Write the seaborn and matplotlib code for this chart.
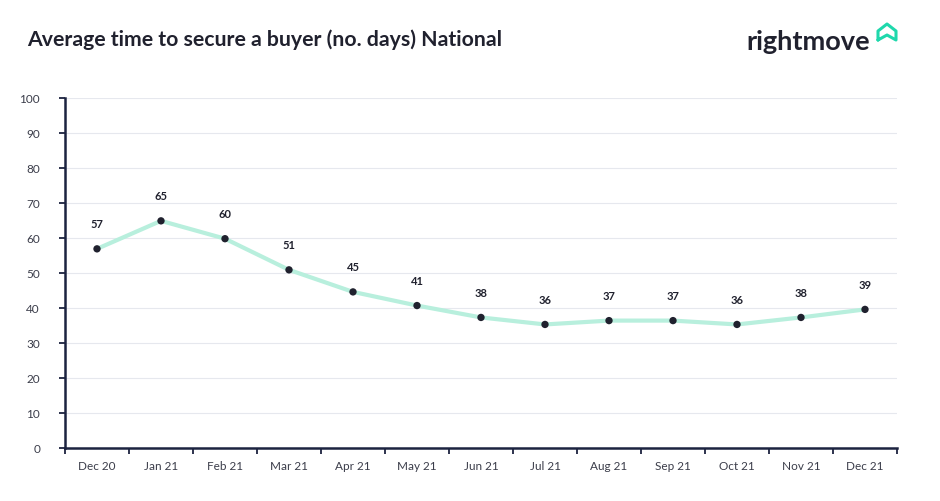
import numpy as np
import pandas as pd
import matplotlib.pyplot as plt
import seaborn as sns
from matplotlib.lines import Line2D

# Data
months = ['Dec 20', 'Jan 21', 'Feb 21', 'Mar 21', 'Apr 21', 'May 21', 'Jun 21',
          'Jul 21', 'Aug 21', 'Sep 21', 'Oct 21', 'Nov 21', 'Dec 21']
days = [56.9, 64.9, 59.8, 50.9, 44.6, 40.7, 37.3, 35.3, 36.4, 36.4, 35.3, 37.3, 39.6]
day_labels = ['57', '65', '60', '51', '45', '41', '38', '36', '37', '37', '36', '38', '39']
y_ticks = [0, 10, 20, 30, 40, 50, 60, 70, 80, 90, 100]

navy = '#1c2340'
dark = '#20212e'
mint = '#b8efdd'
green = '#1fd8ac'

sns.set_theme(style='white')
plt.rcParams['font.family'] = ['Lato', 'DejaVu Sans']

df = pd.DataFrame({'pos': np.arange(len(months)), 'days': days})

fig = plt.figure(figsize=(9.4, 5.02), dpi=100)
ax = fig.add_axes([65 / 940, 1 - 449 / 502, 832 / 940, 350 / 502])

sns.lineplot(data=df, x='pos', y='days', ax=ax, color=mint, linewidth=3, zorder=2)
sns.scatterplot(data=df, x='pos', y='days', ax=ax, color=dark, s=28,
                edgecolor='none', zorder=3)

# value labels above each point
for x, y, t in zip(df['pos'], df['days'], day_labels):
    ax.annotate(t, (x, y), xytext=(0, 18), textcoords='offset points',
                ha='center', va='center', fontsize=8, fontweight='bold', color=dark)

ax.set_xlim(-0.5, len(months) - 0.5)
ax.set_ylim(0, 100)
ax.set_yticks(y_ticks)
ax.set_xticks(df['pos'])
ax.set_xticklabels(months)
ax.set_xticks(np.arange(-0.5, len(months)), minor=True)
ax.tick_params(axis='x', which='major', length=0, pad=9, labelsize=8.5, labelcolor='#3b3d4a')
ax.tick_params(axis='x', which='minor', length=4, width=1.3, color=navy, direction='out', bottom=True)
ax.tick_params(axis='y', length=4, width=1.3, color=navy, left=True, pad=14,
               labelsize=8.5, labelcolor='#3b3d4a')

ax.grid(axis='y', color='#e6e8ee', linewidth=0.8)
ax.set_axisbelow(True)
ax.set_xlabel('')
ax.set_ylabel('')
for s in ['top', 'right']:
    ax.spines[s].set_visible(False)
for s in ['left', 'bottom']:
    ax.spines[s].set_color(navy)
    ax.spines[s].set_linewidth(1.8)

fig.text(27 / 940, 1 - 40 / 502, 'Average time to secure a buyer (no. days) National',
         fontsize=15.3, fontweight='bold', color=dark, va='center', ha='left')
fig.text(746 / 940, 1 - 42 / 502, 'rightmove', fontsize=19.5, fontweight='bold',
         color=dark, va='center', ha='left')

# house icon of the logo
hx = np.array([878, 878, 887, 896, 896, 887, 878]) / 940
hy = 1 - np.array([41, 32, 25, 32, 41, 36, 41]) / 502
fig.add_artist(Line2D(hx, hy, color=green, linewidth=2.2, solid_joinstyle='round',
                      solid_capstyle='round'))

fig.savefig('out.png', dpi=100, facecolor='white')
